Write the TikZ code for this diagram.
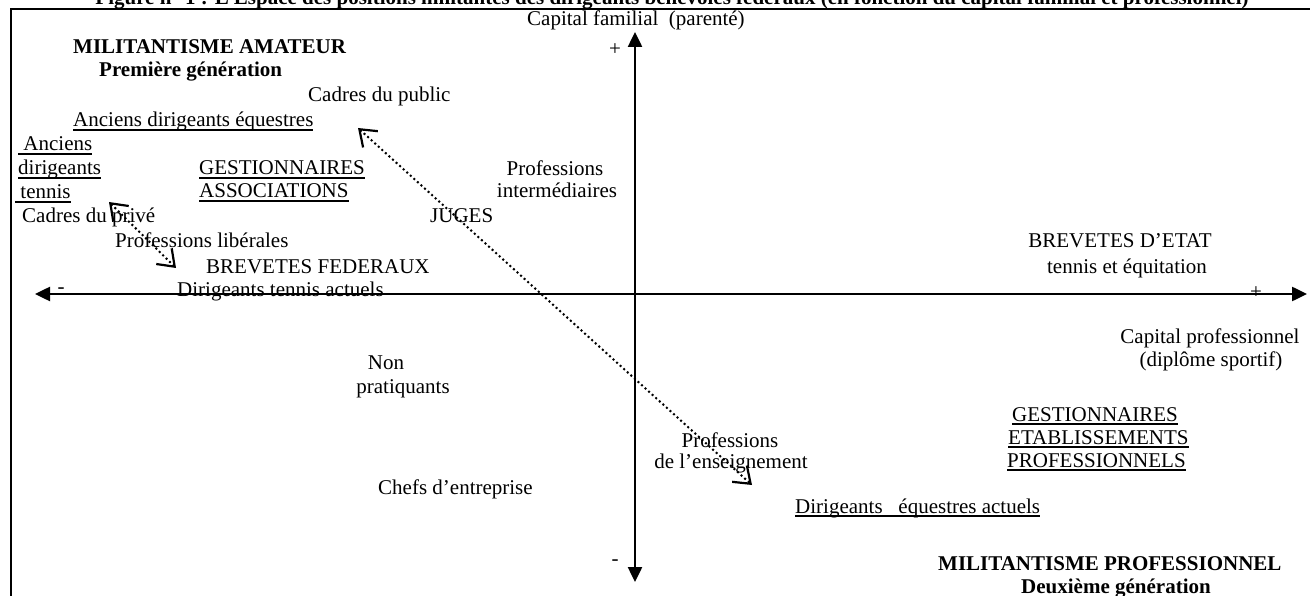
\documentclass[tikz,border=0pt]{standalone}
\usepackage{fontspec}
\setmainfont{Liberation Serif}
\usetikzlibrary{arrows.meta}
\newcommand\wul[1]{\setbox0\hbox{#1}\rlap{\rule[-3.6pt]{\wd0}{1.3pt}}\box0}
\tikzset{
  lbl/.style={inner sep=0pt, font=\fontsize{21}{24}\selectfont},
  blbl/.style={inner sep=0pt, font=\fontsize{21}{24}\selectfont\bfseries},
  axis/.style={line width=2.5pt, {Triangle[length=15pt,width=14pt]}-{Triangle[length=15pt,width=14pt]}},
  dotarrow/.style={line width=2pt, dash pattern=on 2pt off 2.8pt,
    {Straight Barb[length=15pt,width=22pt,line width=2.2pt]}-{Straight Barb[length=15pt,width=22pt,line width=2.2pt]}},
  frameline/.style={line width=2.5pt}
}
\begin{document}
\begin{tikzpicture}[x=1pt,y=-1pt]
\useasboundingbox (0,0) rectangle (1310,596);
\clip (0,0) rectangle (1310,596);
% title (cut off at top)
\node[blbl, anchor=base] (title) at (672,5) {Figure n° 1 : L’Espace des positions militantes des dirigeants bénévoles fédéraux (en fonction du capital familial et professionnel)};
% frame
\draw[frameline] (11,596) -- (11,9) -- (1310,9);
% axes
\coordinate (vtop) at (635,32);
\coordinate (vbot) at (635,582);
\coordinate (hleft) at (35,294);
\coordinate (hright) at (1307,294);
\draw[axis] (vbot) -- (vtop);
\draw[axis] (hleft) -- (hright);
% axis labels
\node[lbl, anchor=base west] (capfam) at (527,26) {Capital familial\ \ (parenté)};
\node[lbl] (vplus) at (615,50) {+};
\node[lbl] (vminus) at (615,563) {-};
\node[lbl] (hminus) at (61,291) {-};
\node[lbl] (hplus) at (1256,293) {+};
\node[lbl, anchor=base] (cappro1) at (1210,343) {Capital professionnel};
\node[lbl, anchor=base] (cappro2) at (1211,366) {(diplôme sportif)};
% upper left
\node[blbl, anchor=base west] (milam) at (73,54) {MILITANTISME AMATEUR};
\node[blbl, anchor=base west] (gen1) at (99,77) {Première génération};
\node[lbl, anchor=base west] (cpub) at (308,102) {Cadres du public};
\node[lbl, anchor=base west] (ade) at (73,127) {\wul{Anciens dirigeants équestres}};
\node[lbl, anchor=base west] (adt1) at (18,151) {\wul{\ Anciens}};
\node[lbl, anchor=base west] (adt2) at (18,175) {\wul{dirigeants}};
\node[lbl, anchor=base west] (adt3) at (15,199) {\wul{\ tennis}};
\node[lbl, anchor=base west] (cpriv) at (22,223) {Cadres du privé};
\node[lbl, anchor=base west] (plib) at (115,248) {Professions libérales};
\node[lbl, anchor=base west] (bfed) at (206,273) {BREVETES FEDERAUX};
\node[lbl, anchor=base west] (dta) at (177,297) {Dirigeants tennis actuels};
\node[lbl, anchor=base west] (gest1) at (199,175) {\wul{GESTIONNAIRES}};
\node[lbl, anchor=base west] (gest2) at (199,198) {\wul{ASSOCIATIONS}};
\node[lbl, anchor=base] (pint1) at (555,176) {Professions};
\node[lbl, anchor=base] (pint2) at (557,198) {intermédiaires};
\node[lbl, anchor=base west] (juges) at (430,223) {JUGES};
% right
\node[lbl, anchor=base] (bde1) at (1120,248) {BREVETES D’ETAT};
\node[lbl, anchor=base] (bde2) at (1127,273) {tennis et équitation};
\node[lbl, anchor=base west] (gep1) at (1012,421) {\wul{GESTIONNAIRES}};
\node[lbl, anchor=base west] (gep2) at (1008,444) {\wul{ETABLISSEMENTS}};
\node[lbl, anchor=base west] (gep3) at (1007,467) {\wul{PROFESSIONNELS}};
% lower
\node[lbl, anchor=base] (nonp1) at (386,369) {Non};
\node[lbl, anchor=base] (nonp2) at (403,393) {pratiquants};
\node[lbl, anchor=base west] (chefs) at (378,494) {Chefs d’entreprise};
\node[lbl, anchor=base] (pens1) at (730,447) {Professions};
\node[lbl, anchor=base] (pens2) at (731,468) {de l’enseignement};
\node[lbl, anchor=base west] (dea) at (795,513) {\wul{Dirigeants\ \ \ équestres actuels}};
\node[blbl, anchor=base west] (milpro) at (938,570) {MILITANTISME PROFESSIONNEL};
\node[blbl, anchor=base] (gen2) at (1116,593) {Deuxième génération};
% dotted arrows
\coordinate (la) at (358,128);
\coordinate (lb) at (752,485);
\coordinate (sa) at (109,202);
\coordinate (sb) at (176,268);
\draw[dotarrow] (la) -- (lb);
\draw[dotarrow] (sa) -- (sb);
\end{tikzpicture}
\end{document}
